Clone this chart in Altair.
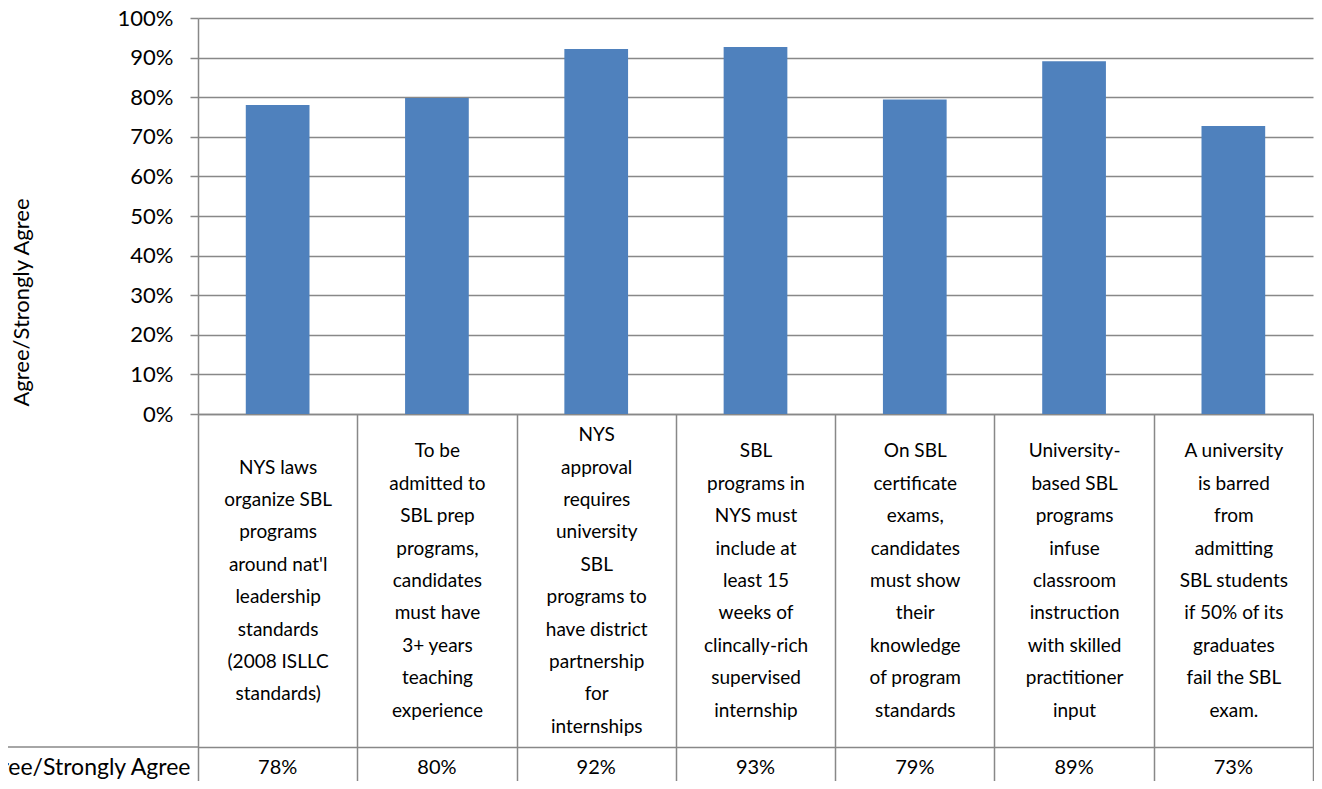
import json
import altair as alt
import pandas as pd

# ---- data ----
CATEGORY_LINES = [
    ["NYS laws", "organize SBL", "programs", "around nat'l", "leadership",
     "standards", "(2008 ISLLC", "standards)"],
    ["To be", "admitted to", "SBL prep", "programs,", "candidates",
     "must have", "3+ years", "teaching", "experience"],
    ["NYS", "approval", "requires", "university", "SBL", "programs to",
     "have district", "partnership", "for", "internships"],
    ["SBL", "programs in", "NYS must", "include at", "least 15", "weeks of",
     "clincally-rich", "supervised", "internship"],
    ["On SBL", "certificate", "exams,", "candidates", "must show", "their",
     "knowledge", "of program", "standards"],
    ["University-", "based SBL", "programs", "infuse", "classroom",
     "instruction", "with skilled", "practitioner", "input"],
    ["A university", "is barred", "from", "admitting", "SBL students",
     "if 50% of its", "graduates", "fail the SBL", "exam."],
]
AGREE_PCT = [78.0, 79.8, 92.2, 92.7, 79.4, 89.1, 72.7]
Y_TICKS = [0, 10, 20, 30, 40, 50, 60, 70, 80, 90, 100]
ROW_LABEL = "Agree/Strongly Agree"
AXIS_TITLE = "Agree/Strongly Agree"

categories = [" ".join(lines) for lines in CATEGORY_LINES]
pct_labels = [f"{round(v)}%" for v in AGREE_PCT]
df = pd.DataFrame({
    "idx": list(range(len(categories))),
    "category": categories,
    "agree": AGREE_PCT,
    "label": pct_labels,
})

# ---- styling ----
W, H = 1115, 396
TABLE_H = 333
VALUE_H = 40
LINE_H = 32.4
FONT = "Lato"
GRAY = "#888888"
BLUE = "#4F81BD"
LW = 1.5
TICK_LEN = TABLE_H + VALUE_H

# per-label padding so each wrapped label block is centred in its cell
label_pads = [TABLE_H / 2 - (len(lines) - 1) * LINE_H / 2 - TICK_LEN
              for lines in CATEGORY_LINES]

x_scale = alt.Scale(paddingInner=0, paddingOuter=0)

bars = alt.Chart(df).mark_bar(color=BLUE, width=alt.RelativeBandSize(0.4)).encode(
    x=alt.X(
        "idx:O", scale=x_scale,
        axis=alt.Axis(
            title=None, orient="bottom",
            labelExpr=json.dumps(CATEGORY_LINES) + "[datum.value]",
            labelAngle=0, labelAlign="center", labelBaseline="middle",
            labelLineHeight=LINE_H, labelFont=FONT, labelFontSize=19,
            labelColor="black", labelOverlap=False, labelBound=False,
            labelPadding=alt.ExprRef(json.dumps(label_pads) + "[datum.value]"),
            tickBand="extent", tickSize=TICK_LEN, tickColor=GRAY,
            tickWidth=LW, domainColor=GRAY, domainWidth=LW,
        ),
    ),
    y=alt.Y(
        "agree:Q", scale=alt.Scale(domain=[0, 100], nice=False),
        axis=alt.Axis(
            values=Y_TICKS, labelExpr="datum.value + '%'",
            labelFont=FONT, labelFontSize=22, labelColor="black", labelPadding=17,
            grid=True, gridColor=GRAY, gridWidth=LW,
            tickSize=8, tickColor=GRAY, tickWidth=LW,
            domainColor=GRAY, domainWidth=LW,
            title=AXIS_TITLE, titleX=-177, titleY=284, titleAngle=270,
            titleAlign="center", titleBaseline="middle", titleFont=FONT,
            titleFontSize=22, titleFontWeight="normal", titleColor="black",
        ),
    ),
    tooltip=["category", "agree"],
)

value_row = alt.Chart(df).mark_bar(opacity=0, width=alt.RelativeBandSize(0.4)).encode(
    x=alt.X(
        "idx:O", scale=x_scale,
        axis=alt.Axis(
            orient="bottom", offset=TABLE_H, ticks=False,
            domainColor=GRAY, domainWidth=LW,
            labelExpr=json.dumps(pct_labels) + "[datum.value]",
            labelAngle=0, labelAlign="center", labelBaseline="middle",
            labelFont=FONT, labelFontSize=20, labelColor="black",
            labelPadding=VALUE_H / 2, labelOverlap=False,
            title=ROW_LABEL, titleX=-8, titleY=VALUE_H / 2, titleAngle=0,
            titleAlign="right", titleBaseline="middle", titleFont=FONT,
            titleFontSize=23, titleFontWeight="normal", titleColor="black",
        ),
    ),
    y=alt.Y("agree:Q", axis=None),
)

header_line = alt.Chart(pd.DataFrame({"row": [ROW_LABEL]})).mark_rule(
    color=GRAY, strokeWidth=LW
).encode(
    x=alt.value(-200), x2=alt.value(0), y=alt.value(H + TABLE_H)
)

chart = (
    alt.layer(bars, value_row, header_line)
    .resolve_axis(x="independent", y="independent")
    .properties(
        width=W, height=H,
        autosize=alt.AutoSizeParams(type="none"),
        padding={"left": 190, "top": 10, "right": 1, "bottom": 367},
        background="white",
    )
    .configure_view(stroke=None)
)

chart.save("out.html", embed_options={"renderer": "svg", "actions": False})
